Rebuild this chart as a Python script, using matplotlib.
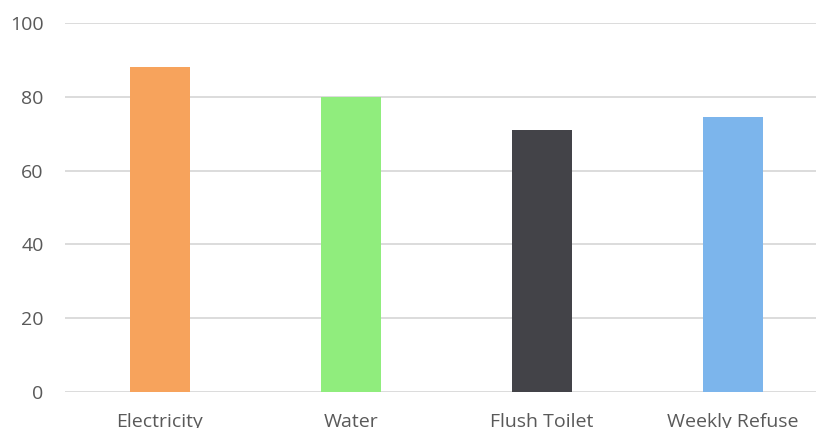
import matplotlib.pyplot as plt

categories = ["Electricity", "Water", "Flush Toilet", "Weekly Refuse"]
values = [88.1, 79.9, 71.0, 74.5]
colors = ["#F7A35C", "#90ED7D", "#434348", "#7CB5EC"]
yticks = [0, 20, 40, 60, 80, 100]

plt.rcParams['font.family'] = ['Open Sans', 'DejaVu Sans']

fig = plt.figure(figsize=(8.16, 4.28), dpi=100)
# axes run past the right edge, as in the cropped original
ax = fig.add_axes([64.5 / 816, 36 / 428, 764 / 816, 369 / 428])

x = range(len(categories))
ax.bar(x, values, width=0.314, color=colors, zorder=3)

ax.set_xlim(-0.5, len(categories) - 0.5)
ax.set_ylim(0, 100)
ax.set_yticks(yticks)
ax.set_xticks(list(x))
ax.set_xticklabels(categories)
ax.yaxis.grid(True, color="#D9D9D9", linewidth=1.3, zorder=0)
ax.set_axisbelow(True)
for s in ax.spines.values():
    s.set_visible(False)
ax.tick_params(axis='both', length=0, labelsize=14, colors="#595959")
ax.tick_params(axis='y', pad=15)
ax.tick_params(axis='x', pad=15)

fig.savefig("out.png", dpi=100)
